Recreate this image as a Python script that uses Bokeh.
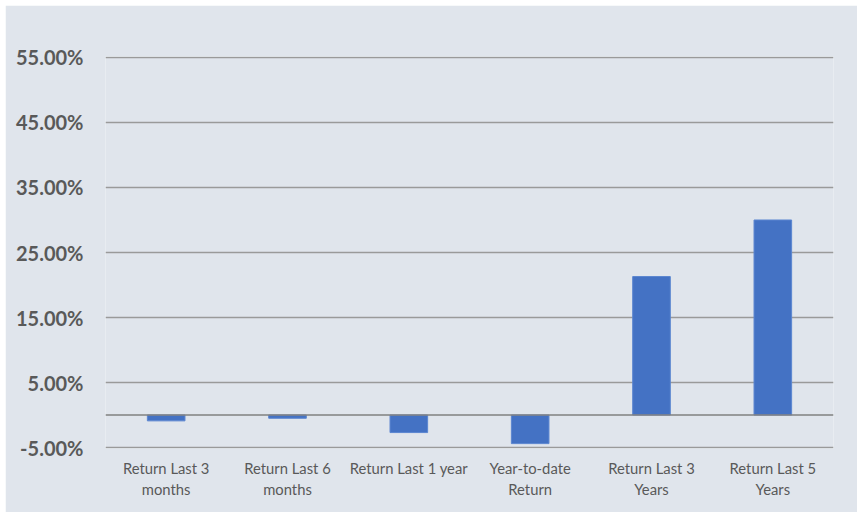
from bokeh.plotting import figure
from bokeh.models import FixedTicker, NumeralTickFormatter, Span, ColumnDataSource
from bokeh.embed import file_html
from bokeh.resources import INLINE

categories = ["Return Last 3\nmonths", "Return Last 6\nmonths", "Return Last 1 year",
              "Year-to-date\nReturn", "Return Last 3\nYears", "Return Last 5\nYears"]
returns = [-0.009, -0.005, -0.027, -0.044, 0.213, 0.300]
y_ticks = [-0.05, 0.05, 0.15, 0.25, 0.35, 0.45, 0.55]

BG = "#E0E5EC"
source = ColumnDataSource(data=dict(cat=categories, val=returns))

p = figure(x_range=categories, y_range=(-0.0515, 0.5515), width=852, height=507,
           output_backend="svg", toolbar_location=None,
           min_border_left=100, min_border_right=24, min_border_top=51, min_border_bottom=64)
p.margin = (5, 2, 3, 5)
p.background_fill_color = BG
p.border_fill_color = BG
p.outline_line_color = None

p.vbar(x="cat", top="val", bottom=0, width=0.31, source=source,
       fill_color="#4472C4", line_color="#5B86D0", line_width=1)

p.xgrid.grid_line_color = None
p.ygrid.ticker = FixedTicker(ticks=y_ticks)
p.ygrid.grid_line_color = "#9A9A9A"
p.ygrid.grid_line_width = 1.5

zero = Span(location=0, dimension="width", line_color="#808080", line_width=1.5)
p.add_layout(zero)

p.yaxis.ticker = FixedTicker(ticks=y_ticks)
p.yaxis.formatter = NumeralTickFormatter(format="0.00%")
p.yaxis.axis_line_color = None
p.yaxis.major_tick_line_color = None
p.yaxis.minor_tick_line_color = None
p.yaxis.major_label_text_font = "Lato"
p.yaxis.major_label_text_font_style = "bold"
p.yaxis.major_label_text_font_size = "20px"
p.yaxis.major_label_text_color = "#595959"
p.yaxis.major_label_standoff = 16

p.xaxis.axis_line_color = None
p.xaxis.major_tick_line_color = None
p.xaxis.major_label_text_font = "Lato"
p.xaxis.major_label_text_font_size = "14.8px"
p.xaxis.major_label_text_color = "#595959"
p.xaxis.major_label_text_line_height = 1.2
p.xaxis.major_label_standoff = 4

open("out.html", "w").write(file_html(p, INLINE))
